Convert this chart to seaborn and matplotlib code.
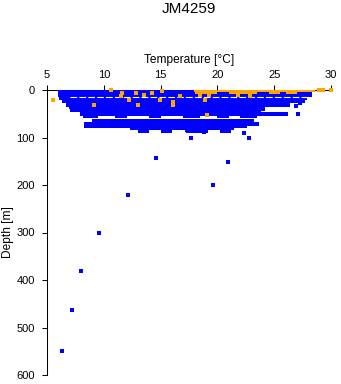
import matplotlib
matplotlib.use("Agg")
import matplotlib.pyplot as plt
import seaborn as sns
import pandas as pd

sns.set_theme(style="white")
plt.rcParams['font.family'] = ['Liberation Sans', 'DejaVu Sans']

title = "JM4259"
x_label = "Temperature [°C]"
y_label = "Depth [m]"
x_ticks = [5, 10, 15, 20, 25, 30]
y_ticks = [0, 100, 200, 300, 400, 500, 600]

# Dense blue cloud, read as depth bands: top depth, bottom depth, min and max temperature
band_top = [0, 15, 21, 27, 35, 40, 46, 54, 54, 54, 54, 54, 54, 60, 67, 75, 79,
            85, 85, 85, 85]
band_bot = [15, 21, 27, 35, 40, 46, 54, 60, 60, 60, 60, 60, 60, 67, 75, 79, 85,
            90, 90, 90, 90]
band_tmin = [6.0, 6.1, 6.3, 6.7, 6.9, 7.0, 7.9, 8.2, 11.0, 14.0, 17.0, 20.0, 22.0,
             9.0, 8.3, 8.3, 12.3, 13.0, 15.0, 17.2, 20.2]
band_tmax = [28.3, 27.9, 27.7, 26.4, 23.8, 23.8, 26.2, 9.5, 12.0, 15.0, 18.5, 21.0,
             23.5, 23.2, 23.7, 22.6, 21.5, 14.0, 16.0, 19.2, 21.2]

# Isolated blue samples (temperature, depth)
blue_temp = [27.1, 27.3, 26.9, 17.7, 22.8, 18.8, 18.2, 17.3, 20.9, 19.6, 14.6, 12.1,
             9.6, 8.0, 7.2, 6.35, 24.0, 22.3]
blue_depth = [50, 27, 33, 102, 102, 88, 84, 84, 151, 201, 144, 222,
              300, 381, 463, 550, 41, 91]

# Dense orange surface layer, as bands
oband_top = [0, 4, 4, 4, 4]
oband_bot = [5, 8, 8, 8, 8]
oband_tmin = [17.9, 18.0, 21.0, 24.5, 26.0]
oband_tmax = [28.6, 20.0, 23.5, 25.5, 27.0]

# Isolated orange samples (temperature, depth)
orange_temp = [5.55, 10.63, 11.57, 11.5, 12.8, 13.5, 12.2, 13.0, 9.1, 14.2, 15.1, 14.95,
               16.1, 16.1, 16.7, 18.9, 19.06, 28.9, 29.3, 30.0, 18.5, 19.3, 21.8, 22.9]
orange_depth = [21, 0, 7, 12, 7, 10, 21, 31, 31, 7, 1.4, 21,
                26, 31, 12, 21, 52, 0, 0, 0, 10, 11, 10, 12]

# white gap line in the cloud
gap_depth = [15.5]
gap_tmin = [7.0]
gap_tmax = [28.0]

fig = plt.figure(figsize=(3.41, 3.84), dpi=100)
ax = fig.add_axes([47/341, 1 - 375/384, (331 - 47)/341, (375 - 90)/384])

blue = "#0000FF"
orange = "#FFA500"

bands = pd.DataFrame({"top": band_top, "bot": band_bot, "tmin": band_tmin, "tmax": band_tmax})
ax.barh(y=(bands.top + bands.bot) / 2, width=bands.tmax - bands.tmin, left=bands.tmin,
        height=bands.bot - bands.top, color=blue, linewidth=0, zorder=2)
ax.hlines(gap_depth, gap_tmin, gap_tmax, colors="white", linewidth=0.8,
          linestyles=(0, (6, 2)), zorder=3)

obands = pd.DataFrame({"top": oband_top, "bot": oband_bot, "tmin": oband_tmin, "tmax": oband_tmax})
ax.barh(y=(obands.top + obands.bot) / 2, width=obands.tmax - obands.tmin, left=obands.tmin,
        height=obands.bot - obands.top, color=orange, linewidth=0, zorder=4)

bdf = pd.DataFrame({"temp": blue_temp, "depth": blue_depth})
odf = pd.DataFrame({"temp": orange_temp, "depth": orange_depth})
sns.scatterplot(data=bdf, x="temp", y="depth", ax=ax, color=blue, marker="s", s=6,
                linewidth=0, clip_on=False, zorder=5)
sns.scatterplot(data=odf, x="temp", y="depth", ax=ax, color=orange, marker="s", s=6,
                linewidth=0, clip_on=False, zorder=6)

ax.set_xlim(5, 30)
ax.set_ylim(600, 0)
ax.xaxis.tick_top()
ax.xaxis.set_label_position("top")
ax.set_xticks(x_ticks)
ax.set_yticks(y_ticks)
ax.set_xticklabels([str(t) for t in x_ticks])
ax.set_yticklabels([str(t) for t in y_ticks])
for s in ["right", "bottom"]:
    ax.spines[s].set_visible(False)
for s in ["left", "top"]:
    ax.spines[s].set_color("black")
    ax.spines[s].set_linewidth(0.75)
    ax.spines[s].set_zorder(1)
ax.tick_params(axis="both", which="major", length=3.6, width=0.75, color="black",
               labelsize=8, labelcolor="black", pad=3.6)
ax.tick_params(axis="x", top=True, bottom=False)
ax.tick_params(axis="y", left=True, pad=5)
ax.set_xlabel(x_label, fontsize=8.6, color="black", labelpad=5)
ax.set_ylabel(y_label, fontsize=8.6, color="black", labelpad=2)
ax.grid(False)
ax.set_facecolor("white")
fig.text(189/341, 1 - 2/384, title, ha="center", va="top", fontsize=11, color="black")

fig.savefig("out.png", dpi=100, facecolor="white")
